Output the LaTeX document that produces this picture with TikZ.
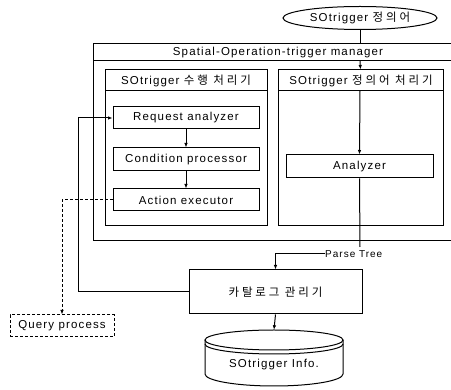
\documentclass[tikz,border=0pt]{standalone}
\usepackage{fontspec}
\setmainfont{Liberation Sans}[LetterSpace=10]
\newfontfamily\krfont{Noto Sans CJK KR}[LetterSpace=25]
\usetikzlibrary{shapes.geometric,arrows.meta}
\begin{document}
\begin{tikzpicture}[x=1pt,y=-1pt,
  every node/.style={font=\fontsize{11.5}{13}\selectfont, inner sep=0pt},
  ln/.style={line width=1pt},
  box/.style={draw, ln, rectangle},
  arr/.style={ln, -{Latex[length=4.5pt,width=3.5pt]}},
  dsh/.style={dash pattern=on 3pt off 2pt}]
\useasboundingbox (0,0) rectangle (451,390);

% definition ellipse
\node[ellipse, draw, ln, minimum width=154, minimum height=23] (def) at (360,18) {SOtrigger {\krfont 정의어}};

% manager outer frame (open at right edge)
\coordinate (mtop) at (360,44);
\coordinate (mhdr) at (360,61);
\draw[ln] (451,44) -- (93,44) -- (93,241) -- (451,241);
\draw[ln] (93,61) -- (451,61);
\node (mgr) at (278,52.5) {Spatial-Operation-trigger manager};

% inner boxes
\node[box, minimum width=162, minimum height=156] (exec) at (186,148) {};
\draw[ln] (105,91) -- (267,91);
\node (exect) at (186,80.5) {SOtrigger {\krfont 수행 처리기}};

\node[box, minimum width=165, minimum height=156] (defp) at (360.5,148) {};
\coordinate (dhdr) at (360,91);
\draw[ln] (278,91) -- (443,91);
\node (defpt) at (361,80.5) {SOtrigger {\krfont 정의어 처리기}};

% execution chain
\node[box, minimum width=146, minimum height=22] (ra) at (186,118) {Request analyzer};
\node[box, minimum width=146, minimum height=23] (cp) at (186,159.5) {Condition processor};
\node[box, minimum width=146, minimum height=22] (ae) at (186,200) {Action executor};

% analyzer
\node[box, minimum width=147, minimum height=23] (an) at (359.5,166.5) {Analyzer};

% catalog manager
\node[box, minimum width=173, minimum height=44] (cat) at (275.5,292) {\krfont 카탈로그 관리기};

% query process
\node[draw, ln, dsh, minimum width=104, minimum height=22] (qp) at (62,326) {Query process};

% parse tree label
\node[anchor=west, font=\fontsize{10}{12}\selectfont] (pt) at (325,254) {Parse Tree};
\coordinate (ptend) at (360,247);

% cylinder SOtrigger Info.
\node[minimum width=138, minimum height=56] (cyl) at (274,358) {};
\node (cyltxt) at (274,365) {SOtrigger Info.};
\draw[ln] (274,340) ellipse [x radius=69, y radius=10];
\draw[ln] (205,344) arc[start angle=180, end angle=0, x radius=69, y radius=10];
\draw[ln] (205,340) -- (205,374) arc[start angle=180, end angle=0, x radius=69, y radius=12] -- (343,340);

% connectors
\draw[ln] (def.south) -- (mtop);
\draw[arr] (mhdr) -- (defp.north);
\draw[arr] (dhdr) -- (an.north);
\draw[ln] (an.south) -- (ptend);
\draw[arr] (pt.west) -| (cat.north);
\draw[arr] (ra.south) -- (cp.north);
\draw[arr] (cp.south) -- (ae.north);
\coordinate (fb) at (78,292);
\draw[arr] (cat.west) -- (fb) |- (ra.west);
\draw[arr, dsh] (ae.west) -| (qp.north);
\draw[arr] (cat.south) -- (cyl.north);
\end{tikzpicture}
\end{document}
